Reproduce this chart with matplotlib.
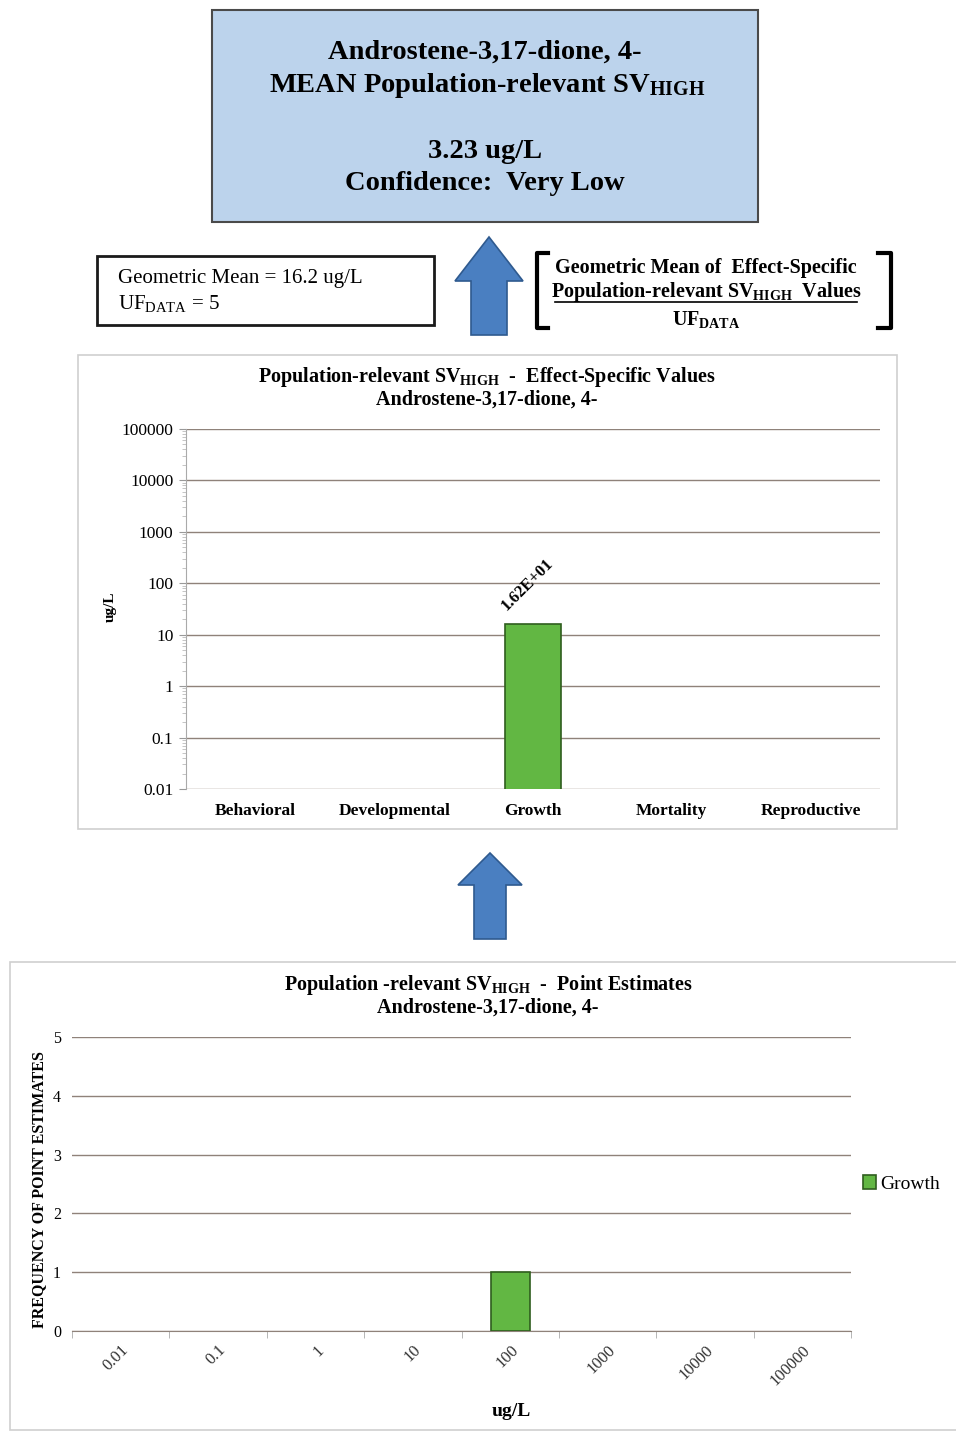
import numpy as np
import matplotlib
matplotlib.use("Agg")
import matplotlib.pyplot as plt
from matplotlib.patches import Rectangle, Polygon
from matplotlib.ticker import LogLocator, NullFormatter, FixedLocator

plt.rcParams['font.family'] = ['Liberation Serif', 'DejaVu Serif']
plt.rcParams['mathtext.fontset'] = 'custom'
plt.rcParams['mathtext.rm'] = 'Liberation Serif'
plt.rcParams['mathtext.bf'] = 'Liberation Serif:bold'
plt.rcParams['mathtext.it'] = 'Liberation Serif:italic'

# ---- data ----
chemical = "Androstene-3,17-dione, 4-"
mean_sv = 3.23
geo_mean = 16.2
uf_data = 5
confidence = "Very Low"

effects = ["Behavioral", "Developmental", "Growth", "Mortality", "Reproductive"]
effect_values = [np.nan, np.nan, 16.2, np.nan, np.nan]
effect_labels = ["", "", "1.62E+01", "", ""]

bins = ["0.01", "0.1", "1", "10", "100", "1000", "10000", "100000"]
growth_counts = [0, 0, 0, 0, 1, 0, 0, 0]

W, H = 956, 1431
fig = plt.figure(figsize=(W / 100, H / 100), dpi=100)
fig.patch.set_facecolor("white")

def fx(x):
    return x / W

def fy(y):
    return 1 - y / H

def rect(x0, y0, x1, y1):
    return [fx(x0), fy(y1), fx(x1 - x0), (y1 - y0) / H]

GREEN = "#62b743"
GREEN_EDGE = "#2f5e1e"
GRID = "#8f827a"
ARROW = "#4a7fc1"
ARROW_EDGE = "#2f5a8f"

def frame(x0, y0, x1, y1, fc, ec, lw):
    fig.patches.append(Rectangle((fx(x0), fy(y1)), fx(x1 - x0), (y1 - y0) / H,
                                 transform=fig.transFigure, facecolor=fc,
                                 edgecolor=ec, lw=lw, zorder=-1))

# ---- summary box ----
frame(212, 10, 758, 222, "#bcd3ec", "#4a4a4a", 1.5)
fig.text(fx(485), fy(52), chemical, ha="center", va="center",
         fontsize=20.5, fontweight="bold")
fig.text(fx(487), fy(86), r"MEAN Population-relevant SV$_{\mathbf{HIGH}}$",
         ha="center", va="center", fontsize=20.5, fontweight="bold")
fig.text(fx(485), fy(151), f"{mean_sv:.2f} ug/L", ha="center", va="center",
         fontsize=20.5, fontweight="bold")
fig.text(fx(485), fy(184), f"Confidence:  {confidence}", ha="center", va="center",
         fontsize=20.5, fontweight="bold")

# ---- arrows ----
def up_arrow(cx, tip, base, bottom, hw, sw):
    pts = [(cx, tip), (cx + hw, base), (cx + sw, base), (cx + sw, bottom),
           (cx - sw, bottom), (cx - sw, base), (cx - hw, base)]
    fig.patches.append(Polygon([(fx(x), fy(y)) for x, y in pts], closed=True,
                               transform=fig.transFigure, facecolor=ARROW,
                               edgecolor=ARROW_EDGE, lw=1.2))

up_arrow(489, 237, 281, 335, 34, 18)
up_arrow(490, 853, 885, 939, 32, 16)

# ---- geometric mean box ----
frame(97, 256, 434, 325, "white", "#1a1a1a", 2)
fig.text(fx(118), fy(279), f"Geometric Mean = {geo_mean} ug/L", ha="left",
         va="center", fontsize=15)
fig.text(fx(118), fy(303), r"UF$_{\mathrm{DATA}}$" + f" = {uf_data}", ha="left",
         va="center", fontsize=15)

# ---- formula in brackets ----
fig.text(fx(706), fy(268), "Geometric Mean of  Effect-Specific", ha="center",
         va="center", fontsize=14.5, fontweight="bold")
fig.text(fx(706), fy(292), r"Population-relevant SV$_{\mathbf{HIGH}}$  Values",
         ha="center", va="center", fontsize=14.5, fontweight="bold")
fig.lines.append(plt.Line2D([fx(555), fx(857)], [fy(302), fy(302)],
                            transform=fig.transFigure, color="black", lw=1.2))
fig.text(fx(706), fy(319), r"UF$_{\mathbf{DATA}}$", ha="center", va="center",
         fontsize=14.5, fontweight="bold")
for xs in ([548, 537, 537, 548], [878, 891, 891, 878]):
    fig.lines.append(plt.Line2D([fx(v) for v in xs], [fy(253), fy(253), fy(328), fy(328)],
                                transform=fig.transFigure, color="black", lw=3))

# ---- effect-specific panel ----
frame(78, 355, 897, 829, "white", "#cfcfcf", 1.2)
fig.text(fx(487), fy(377), r"Population-relevant SV$_{\mathbf{HIGH}}$  -  Effect-Specific Values",
         ha="center", va="center", fontsize=14.5, fontweight="bold")
fig.text(fx(487), fy(400), chemical, ha="center", va="center", fontsize=14.5,
         fontweight="bold")

ax1 = fig.add_axes(rect(186, 429, 880, 789))
ax1.patch.set_alpha(0)
x1 = np.arange(len(effects))
ax1.bar(x1, effect_values, width=0.4, color=GREEN, edgecolor=GREEN_EDGE, lw=1.2,
        zorder=3)
ax1.set_yscale("log")
ax1.set_ylim(0.01, 100000)
ax1.set_xlim(-0.5, len(effects) - 0.5)
ax1.yaxis.set_major_locator(FixedLocator([0.01, 0.1, 1, 10, 100, 1000, 10000, 100000]))
ax1.set_yticklabels(["0.01", "0.1", "1", "10", "100", "1000", "10000", "100000"])
ax1.yaxis.set_minor_locator(LogLocator(base=10, subs=np.arange(2, 10)))
ax1.yaxis.set_minor_formatter(NullFormatter())
ax1.grid(axis="y", which="major", color=GRID, lw=1, zorder=0)
ax1.set_xticks(x1)
ax1.set_xticklabels(effects, fontweight="bold", fontsize=12.5)
ax1.tick_params(axis="x", length=0, pad=10)
ax1.tick_params(axis="y", which="major", length=5, color="#999999", labelsize=12.5, pad=4)
ax1.tick_params(axis="y", which="minor", length=3, color="#bbbbbb")
for s in ("top", "right", "bottom"):
    ax1.spines[s].set_visible(False)
ax1.spines["left"].set_color("#aaaaaa")
ax1.set_ylabel("ug/L", fontweight="bold", fontsize=11)
ax1.yaxis.set_label_coords((117 - 186) / 694, (789 - 607) / 360)
for xi, v, lab in zip(x1, effect_values, effect_labels):
    if lab:
        ax1.annotate(lab, (xi - 0.2, v), xytext=(3, 7), textcoords="offset points",
                     rotation=45, ha="left", va="bottom", fontsize=12,
                     fontweight="bold", rotation_mode="anchor")

# ---- point-estimate panel ----
frame(10, 962, 960, 1430, "white", "#cfcfcf", 1.2)
fig.text(fx(488), fy(985), r"Population -relevant SV$_{\mathbf{HIGH}}$  -  Point Estimates",
         ha="center", va="center", fontsize=14.5, fontweight="bold")
fig.text(fx(488), fy(1008), chemical, ha="center", va="center", fontsize=14.5,
         fontweight="bold")

ax2 = fig.add_axes(rect(72, 1037, 851, 1331))
ax2.patch.set_alpha(0)
x2 = np.arange(len(bins))
counts = np.array(growth_counts, dtype=float)
shown = counts > 0
ax2.bar(x2[shown], counts[shown], width=0.4, color=GREEN, edgecolor=GREEN_EDGE,
        lw=1.2, zorder=3, label="Growth")
ax2.set_xlim(-0.5, len(bins) - 0.5)
ax2.set_ylim(0, 5)
ax2.set_yticks(range(6))
ax2.grid(axis="y", color=GRID, lw=1, zorder=0)
ax2.set_xticks(x2)
ax2.set_xticklabels(bins, rotation=45, ha="right", rotation_mode="anchor",
                    fontsize=12, color="#333333")
ax2.set_xticks(np.arange(-0.5, len(bins)), minor=True)
ax2.tick_params(axis="x", which="major", length=0, pad=8)
ax2.tick_params(axis="x", which="minor", length=5, color="#aaaaaa")
ax2.tick_params(axis="y", length=0, labelsize=11.5, pad=8)
for s in ("top", "right", "left"):
    ax2.spines[s].set_visible(False)
ax2.spines["bottom"].set_color(GRID)
ax2.set_ylabel("FREQUENCY OF POINT ESTIMATES", fontweight="bold", fontsize=11.5)
ax2.yaxis.set_label_coords((47 - 72) / 779, (1331 - 1190) / 294)
ax2.set_xlabel("ug/L", fontweight="bold", fontsize=14)
ax2.xaxis.set_label_coords((511 - 72) / 779, -(1403 - 1331) / 294)
ax2.legend(loc="center left", bbox_to_anchor=(1.005, 0.5), frameon=False,
           fontsize=14, handlelength=0.7, handleheight=0.7, handletextpad=0.2,
           borderaxespad=0)

fig.savefig("out.png", dpi=100, facecolor="white")
